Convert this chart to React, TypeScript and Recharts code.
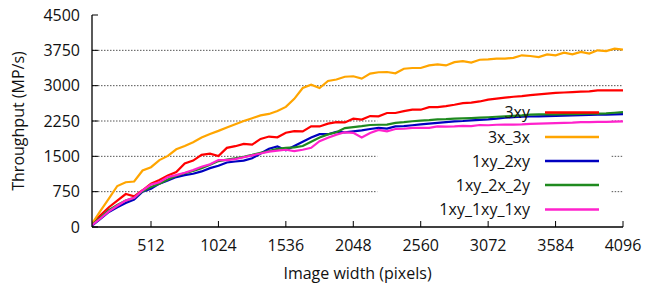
import React from 'react';
import { LineChart, Line, XAxis, YAxis, ReferenceLine, Legend } from 'recharts';

const widths = [
  64, 128, 192, 256, 320, 384, 448, 512, 576, 640, 704, 768, 832, 896, 960, 1024,
  1088, 1152, 1216, 1280, 1344, 1408, 1472, 1536, 1600, 1664, 1728, 1792, 1856, 1920, 1984, 2048,
  2112, 2176, 2240, 2304, 2368, 2432, 2496, 2560, 2624, 2688, 2752, 2816, 2880, 2944, 3008, 3072,
  3136, 3200, 3264, 3328, 3392, 3456, 3520, 3584, 3648, 3712, 3776, 3840, 3904, 3968, 4032, 4096,
];

const s3xy = [
  70, 250, 420, 560, 700, 650, 780, 920, 1000, 1095, 1165, 1350, 1410, 1530, 1555, 1505,
  1680, 1715, 1765, 1750, 1870, 1920, 1905, 2000, 2035, 2030, 2135, 2135, 2195, 2225, 2220, 2300,
  2280, 2355, 2350, 2420, 2420, 2460, 2490, 2490, 2545, 2545, 2565, 2595, 2630, 2640, 2665, 2705,
  2725, 2745, 2765, 2780, 2800, 2815, 2830, 2845, 2855, 2865, 2875, 2880, 2900, 2900, 2900, 2900,
];

const s3x3x = [
  70, 340, 600, 870, 950, 965, 1200, 1270, 1420, 1510, 1650, 1720, 1800, 1900, 1975, 2040,
  2110, 2180, 2250, 2310, 2370, 2400, 2460, 2550, 2720, 2950, 3020, 2950, 3100, 3130, 3190, 3200,
  3150, 3255, 3285, 3290, 3262, 3360, 3375, 3375, 3430, 3450, 3430, 3500, 3520, 3490, 3550, 3560,
  3575, 3575, 3590, 3645, 3630, 3608, 3665, 3645, 3700, 3665, 3715, 3680, 3750, 3735, 3785, 3765,
];

const s1xy2xy = [
  30, 170, 320, 420, 510, 585, 750, 810, 920, 990, 1060, 1100, 1130, 1180, 1250, 1300,
  1370, 1390, 1410, 1460, 1560, 1660, 1710, 1630, 1720, 1810, 1900, 1970, 1970, 2020, 2010, 2030,
  2050, 2080, 2105, 2090, 2135, 2140, 2160, 2180, 2195, 2210, 2225, 2240, 2250, 2265, 2275, 2285,
  2300, 2320, 2330, 2340, 2345, 2350, 2355, 2360, 2365, 2370, 2375, 2380, 2385, 2385, 2390, 2395,
];

const s1xy2x2y = [
  50, 200, 360, 470, 560, 620, 760, 850, 920, 1010, 1090, 1140, 1190, 1250, 1320, 1400,
  1430, 1460, 1490, 1530, 1575, 1610, 1660, 1680, 1690, 1720, 1810, 1900, 1965, 2010, 2100, 2120,
  2140, 2165, 2170, 2175, 2210, 2225, 2245, 2260, 2270, 2285, 2290, 2300, 2305, 2312, 2320, 2330,
  2340, 2350, 2360, 2370, 2385, 2390, 2390, 2390, 2395, 2395, 2400, 2405, 2405, 2410, 2425, 2440,
];

const s1xy1xy1xy = [
  40, 180, 330, 450, 560, 620, 780, 900, 950, 1060, 1100, 1150, 1210, 1280, 1330, 1420,
  1420, 1440, 1480, 1520, 1560, 1600, 1620, 1640, 1610, 1640, 1680, 1820, 1895, 1960, 2010, 2000,
  1900, 1995, 2060, 2030, 2080, 2085, 2105, 2105, 2105, 2135, 2130, 2135, 2145, 2140, 2165, 2160,
  2170, 2172, 2175, 2180, 2190, 2195, 2200, 2205, 2210, 2215, 2225, 2225, 2230, 2232, 2238, 2242,
];

const xTicks = [512, 1024, 1536, 2048, 2560, 3072, 3584, 4096];
const yTicks = [0, 750, 1500, 2250, 3000, 3750, 4500];
const fullGrid = [3000, 3750];
const partialGrid = [750, 1500, 2250];
const legendLeft = 2230;
const legendRight = 4010;

const seriesDefs = [
  { key: '3xy', values: s3xy, color: '#ff0000' },
  { key: '3x_3x', values: s3x3x, color: '#ffa500' },
  { key: '1xy_2xy', values: s1xy2xy, color: '#0000c0' },
  { key: '1xy_2x_2y', values: s1xy2x2y, color: '#1f8a1f' },
  { key: '1xy_1xy_1xy', values: s1xy1xy1xy, color: '#ff22cc' },
];

const data = widths.map((w, i) => {
  const row: any = { w };
  seriesDefs.forEach((s) => { row[s.key] = s.values[i]; });
  return row;
});

const FONT = '"Open Sans", Lato, sans-serif';
const FS = 16;
const TICK_LEN = 6;
const X_MARGIN = 13;
const Y_MARGIN = 12;

const XTickBottom = (props: any) => {
  const { x, y, payload } = props;
  const axisY = y - X_MARGIN;
  return (
    <g>
      <line x1={x} y1={axisY} x2={x} y2={axisY - TICK_LEN} stroke="#000" strokeWidth={1} />
      <text x={x} y={y} dy="0.71em" textAnchor="middle" fontFamily={FONT} fontSize={FS} fill="#111">
        {payload.value}
      </text>
    </g>
  );
};

const XTickTop = (props: any) => {
  const { x, y } = props;
  return <line x1={x} y1={y} x2={x} y2={y + TICK_LEN} stroke="#000" strokeWidth={1} />;
};

const YTickLeft = (props: any) => {
  const { x, y, payload } = props;
  const axisX = x + Y_MARGIN;
  return (
    <g>
      <line x1={axisX} y1={y} x2={axisX + TICK_LEN} y2={y} stroke="#000" strokeWidth={1} />
      <text x={x} y={y} dy="0.355em" textAnchor="end" fontFamily={FONT} fontSize={FS} fill="#111">
        {payload.value}
      </text>
    </g>
  );
};

const YTickRight = (props: any) => {
  const { x, y } = props;
  return <line x1={x} y1={y} x2={x - TICK_LEN} y2={y} stroke="#000" strokeWidth={1} />;
};

const legendRows = [112.5, 137, 161, 185, 209.5];

const LegendContent = () => (
  <svg width={665} height={289} style={{ position: 'absolute', left: 0, top: 0, overflow: 'visible' }}>
    {seriesDefs.map((s, i) => (
      <g key={s.key}>
        <text x={530} y={legendRows[i]} dy="0.355em" textAnchor="end" fontFamily={FONT} fontSize={FS} fill="#111">
          {s.key}
        </text>
        <line x1={545} y1={legendRows[i]} x2={599} y2={legendRows[i]} stroke={s.color} strokeWidth={2.5} />
      </g>
    ))}
  </svg>
);

const YLabel = (props: any) => {
  const vb = props.viewBox || {};
  const cy = (vb.y || 0) + (vb.height || 0) / 2;
  const bx = 24;
  return (
    <text x={bx} y={cy} transform={`rotate(-90, ${bx}, ${cy})`} textAnchor="middle" fontFamily={FONT} fontSize={FS} fill="#111">
      Throughput (MP/s)
    </text>
  );
};

export default function App() {
  return (
    <div style={{ position: 'absolute', left: 0, top: 0, width: 665, height: 289, background: '#fff' }}>
      <LineChart width={665} height={289} data={data} margin={{ top: 15, right: 42, bottom: 0, left: 0 }}>
        <XAxis
          dataKey="w"
          type="number"
          domain={[64, 4096]}
          ticks={xTicks}
          allowDataOverflow
          height={62}
          tickSize={0}
          tickMargin={X_MARGIN}
          tick={<XTickBottom />}
          axisLine={{ stroke: '#000', strokeWidth: 1.3 }}
          interval={0}
          label={{ value: 'Image width (pixels)', position: 'insideBottom', offset: 10, fontFamily: FONT, fontSize: FS, fill: '#111' }}
        />
        <XAxis
          xAxisId="top"
          orientation="top"
          dataKey="w"
          type="number"
          domain={[64, 4096]}
          ticks={xTicks}
          allowDataOverflow
          height={0}
          tickSize={0}
          tickMargin={0}
          tick={<XTickTop />}
          axisLine={{ stroke: '#000', strokeWidth: 1.3 }}
          interval={0}
        />
        <YAxis
          type="number"
          domain={[0, 4500]}
          ticks={yTicks}
          width={92}
          tickSize={0}
          tickMargin={Y_MARGIN}
          tick={<YTickLeft />}
          axisLine={{ stroke: '#000', strokeWidth: 1.3 }}
          interval={0}
          label={<YLabel />}
        />
        <YAxis
          yAxisId="right"
          orientation="right"
          type="number"
          domain={[0, 4500]}
          ticks={yTicks}
          width={0}
          tickSize={0}
          tickMargin={0}
          tick={<YTickRight />}
          axisLine={{ stroke: '#000', strokeWidth: 1.3 }}
          interval={0}
        />
        {fullGrid.map((v) => (
          <ReferenceLine key={'f' + v} y={v} stroke="#555" strokeWidth={1} strokeDasharray="1.5 1.5" />
        ))}
        {partialGrid.map((v) => (
          <ReferenceLine
            key={'pa' + v}
            segment={[{ x: 64, y: v }, { x: legendLeft, y: v }]}
            stroke="#555"
            strokeWidth={1}
            strokeDasharray="1.5 1.5"
          />
        ))}
        {partialGrid.map((v) => (
          <ReferenceLine
            key={'pb' + v}
            segment={[{ x: legendRight, y: v }, { x: 4096, y: v }]}
            stroke="#555"
            strokeWidth={1}
            strokeDasharray="1.5 1.5"
          />
        ))}
        {seriesDefs.map((s) => (
          <Line
            key={s.key}
            dataKey={s.key}
            name={s.key}
            stroke={s.color}
            strokeWidth={2.2}
            dot={false}
            activeDot={false}
            type="linear"
            isAnimationActive={false}
          />
        ))}
        <Legend
          layout="horizontal"
          verticalAlign="middle"
          align="center"
          wrapperStyle={{ left: 0, top: 0, width: 665, height: 289, pointerEvents: 'none' }}
          content={<LegendContent />}
        />
      </LineChart>
    </div>
  );
}
